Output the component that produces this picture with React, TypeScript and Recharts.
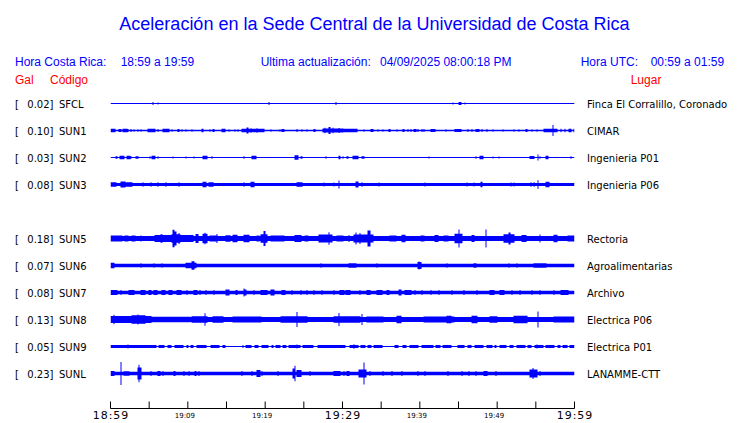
import React from 'react';
import { ComposedChart, Area, XAxis, YAxis } from 'recharts';

type Ev = [number, number, number]; // [start minute, end minute, half amplitude]

const codes = ['SFCL', 'SUN1', 'SUN2', 'SUN3', 'SUN5', 'SUN6', 'SUN7', 'SUN8', 'SUN9', 'SUNL'];
const galValues = ['0.02', '0.10', '0.03', '0.08', '0.18', '0.07', '0.08', '0.13', '0.05', '0.23'];
const places = [
  'Finca El Corralillo, Coronado', 'CIMAR', 'Ingenieria P01', 'Ingenieria P06',
  'Rectoria', 'Agroalimentarias', 'Archivo', 'Electrica P06', 'Electrica P01', 'LANAMME-CTT',
];
const noiseFloor = [0.5, 0.8, 0.5, 1.5, 2.6, 1.7, 1.7, 2.5, 1.5, 1.8];

const sfclEvents: Ev[] = [[5.5,5.5,1.5],[6.1,6.1,1.0],[20.5,20.5,1.5],[29.2,29.2,1.5],[44.3,44.3,1.0],[45.1,45.3,1.5],[45.8,45.8,1.0]];
const sun1Events: Ev[] = [[0.1,0.6,1.7],[1.1,1.3,1.5],[1.6,2.1,1.7],[2.3,2.3,1.5],[2.6,2.6,1.5],[3.1,3.1,1.2],[3.6,3.6,1.2],[4.0,4.0,1.2],[4.9,5.7,1.7],[6.1,6.1,1.5],[6.8,7.5,1.7],[8.0,8.0,1.2],[8.7,8.9,1.5],[9.3,9.3,1.2],[9.8,9.8,1.2],[10.6,10.6,1.2],[11.8,12.0,1.7],[12.9,12.9,1.2],[13.2,13.4,1.5],[14.4,14.8,1.7],[15.3,15.3,1.2],[16.1,16.1,1.2],[16.5,16.5,1.2],[17.0,19.8,1.8],[17.7,17.8,3.0],[18.2,18.2,2.3],[19.0,19.0,2.2],[20.7,20.7,1.2],[21.9,21.9,1.2],[22.2,22.4,1.5],[24.1,24.1,1.5],[24.8,24.8,1.2],[25.4,25.4,1.2],[26.3,26.5,1.5],[27.5,30.0,2.0],[27.8,27.8,2.8],[28.3,28.4,3.5],[28.8,28.8,2.8],[29.5,29.5,2.5],[30.0,31.9,1.7],[32.8,32.8,1.2],[33.7,34.0,1.5],[34.6,34.6,1.2],[35.3,35.3,1.2],[36.0,36.2,1.5],[37.0,37.0,1.2],[37.8,38.0,1.5],[38.5,38.5,1.5],[38.9,38.9,1.5],[39.2,39.5,1.5],[39.8,39.8,1.5],[40.3,40.3,1.5],[40.6,40.6,1.5],[41.4,42.0,1.5],[43.4,43.4,1.2],[44.6,45.3,1.5],[46.2,46.2,1.5],[46.8,46.8,1.5],[47.3,47.6,1.5],[48.0,48.0,1.5],[48.7,48.7,1.5],[49.5,49.5,1.2],[50.7,50.7,1.2],[52.2,52.2,1.2],[52.8,52.8,1.2],[53.7,53.9,1.5],[54.5,54.5,1.2],[55.2,55.2,1.2],[56.1,57.7,1.8],[57.2,57.2,5.5],[58.2,58.2,1.7],[58.8,58.8,1.7],[59.3,59.6,1.7],[59.9,59.9,1.7]];
const sun2Events: Ev[] = [[0.7,0.9,1.2],[1.2,1.8,1.7],[2.1,2.5,1.7],[2.7,2.7,1.2],[3.3,3.5,1.2],[5.1,5.1,1.2],[5.4,5.7,1.7],[6.2,6.2,1.2],[8.1,8.1,1.0],[9.8,9.8,1.0],[10.8,10.8,1.0],[11.9,12.5,1.7],[13.1,13.1,1.2],[17.2,17.2,1.2],[18.3,18.8,1.7],[23.8,24.2,2.3],[24.6,24.8,1.2],[27.9,27.9,1.2],[29.5,29.7,1.7],[30.0,30.0,1.2],[30.6,30.7,1.2],[31.3,32.0,1.7],[32.5,32.8,1.2],[41.2,41.2,1.0],[47.3,47.3,1.2],[47.8,48.2,1.7],[49.4,49.4,1.0],[50.2,50.2,1.0],[54.3,54.7,1.5],[55.3,55.3,3.0],[55.6,55.6,1.2],[56.3,56.6,1.7],[59.5,59.5,1.2]];
const sun3Events: Ev[] = [[0,0.7,2.3],[1.4,1.9,3.0],[1.9,2.8,2.2],[4.2,4.2,2.2],[5.3,5.3,2.2],[6.2,6.2,2.2],[7.2,7.2,2.2],[8.8,8.8,2.2],[11.9,12.4,2.7],[12.7,13.2,2.3],[17.2,17.2,2.2],[18.2,18.5,2.7],[24.1,24.8,2.3],[27.6,27.6,2.0],[28.9,28.9,2.0],[29.6,29.6,4.0],[31.7,32.0,3.0],[32.5,32.5,2.2],[34.7,34.7,2.0],[40.7,40.7,2.0],[46.1,46.1,2.0],[47.0,47.0,2.0],[47.9,48.1,2.7],[51.8,51.8,2.0],[52.2,52.2,2.0],[54.4,54.4,2.2],[54.7,54.7,2.2],[55.3,55.3,4.3],[56.3,56.7,2.7]];
const sun5Events: Ev[] = [[0,1.5,2.9],[1.9,2.2,3.0],[2.8,3.2,3.0],[4.0,4.0,3.0],[5.8,7.8,3.4],[6.5,6.6,4.2],[7.9,9.0,4.2],[8.1,8.2,8.7],[8.4,8.5,7.0],[8.8,8.8,5.5],[9.1,10.7,3.4],[11.0,11.3,4.4],[11.9,12.5,4.8],[12.2,12.2,5.7],[12.9,13.6,3.1],[13.8,13.8,4.5],[14.9,15.5,3.2],[15.9,16.4,3.8],[17.2,17.9,3.7],[19.0,19.2,3.1],[19.5,20.3,4.2],[19.9,20.0,7.5],[20.7,22.4,3.1],[23.9,24.6,3.4],[25.2,25.5,3.1],[26.9,28.7,3.9],[28.2,28.3,6.3],[29.3,29.7,3.1],[29.7,30.1,2.9],[30.8,30.8,3.5],[31.5,34.0,4.1],[31.7,31.7,6.0],[32.3,32.3,5.5],[33.3,33.5,8.0],[36.2,36.9,3.1],[37.7,38.1,3.8],[40.1,40.5,3.1],[42.0,42.4,3.4],[43.1,43.6,3.1],[44.6,45.5,4.8],[45.0,45.1,9.0],[46.8,47.0,3.4],[48.6,48.6,9.0],[50.9,52.2,4.2],[51.5,51.6,6.0],[53.2,53.7,3.4],[55.6,55.6,4.0],[57.3,57.8,3.8],[59.1,60,3.1]];
const sun6Events: Ev[] = [[0,0.5,2.7],[3.9,3.9,2.3],[5.6,5.6,2.3],[6.7,6.7,2.3],[9.7,11.0,2.8],[10.6,10.8,4.3],[27.2,27.2,2.3],[30.9,31.7,2.3],[34.4,34.4,2.3],[39.7,40.1,3.5],[39.9,39.9,4.0],[43.5,43.5,2.3],[47.0,47.3,2.3],[51.5,51.5,2.3],[52.6,52.6,2.3],[54.7,56.3,2.3]];
const sun7Events: Ev[] = [[0,0.9,2.5],[1.3,1.3,2.5],[2.4,3.0,2.5],[3.9,4.5,2.5],[5.0,5.2,2.5],[5.6,6.0,2.5],[6.7,7.1,2.5],[7.5,8.0,2.5],[8.6,9.1,2.5],[9.9,9.9,2.5],[10.8,11.2,2.5],[11.6,11.6,2.5],[12.3,12.3,2.5],[13.4,13.4,2.5],[14.9,15.3,3.0],[16.2,16.4,2.5],[17.2,17.5,3.0],[17.3,17.3,4.0],[18.5,18.5,2.5],[19.4,20.3,2.5],[20.7,21.1,3.0],[22.2,22.6,2.5],[23.5,23.5,2.5],[24.6,24.6,2.5],[25.4,25.4,2.5],[26.3,26.3,2.5],[27.4,27.4,2.5],[28.9,28.9,2.5],[29.7,30.2,2.5],[30.4,31.0,2.5],[32.3,32.3,2.5],[33.2,33.6,2.5],[34.5,35.1,2.5],[35.8,36.0,2.5],[37.3,37.5,3.0],[38.1,38.8,2.5],[39.4,39.4,2.5],[40.3,40.3,2.5],[41.4,41.4,2.5],[42.5,42.5,2.5],[44.2,44.2,2.5],[45.7,45.7,2.5],[47.4,47.4,2.5],[49.1,49.6,2.5],[50.4,50.9,2.5],[51.9,51.9,2.5],[53.0,53.0,2.5],[54.5,54.5,2.5],[55.6,55.6,2.5],[57.3,57.3,2.5],[58.2,59.1,2.5]];
const sun8Events: Ev[] = [[0,5.2,3.5],[0.4,0.4,4.8],[2.8,4.5,4.2],[3.6,3.6,5.0],[5.2,10.3,2.8],[10.6,12.5,3.2],[12.2,12.2,6.3],[13.3,14.6,3.2],[15.9,19.4,2.9],[22.0,25.4,3.2],[24.1,24.1,7.5],[28.9,32.3,3.2],[29.6,29.6,6.5],[32.5,32.5,5.5],[33.2,35.3,2.9],[37.1,37.5,3.7],[40.5,44.4,2.9],[43.5,44.0,3.7],[46.8,47.4,3.7],[49.1,50.0,3.2],[52.2,53.9,3.7],[55.3,55.3,8.0],[57.3,60,2.9]];
const sun9Events: Ev[] = [[2.2,2.2,2.0],[6.0,6.2,0.5],[7.1,7.3,0.5],[8.0,8.2,0.5],[9.5,9.7,0.5],[10.1,10.3,0.5],[10.8,11.0,0.5],[12.5,12.9,0.5],[14.2,14.4,0.5],[14.9,17.0,0.5],[17.2,17.4,0.5],[18.3,18.5,0.5],[19.2,19.4,0.5],[20.5,20.7,0.5],[21.1,21.3,0.5],[22.0,22.2,0.5],[22.8,23.0,0.5],[24.1,24.1,2.0],[24.6,24.8,0.5],[26.3,26.7,0.5],[30.4,30.8,0.5],[31.5,31.5,2.3],[32.1,32.3,0.5],[33.0,33.2,0.5],[33.8,34.0,0.5],[35.3,36.6,0.5],[37.3,37.7,0.5],[38.4,38.6,0.5],[39.9,40.1,0.5],[41.8,42.0,0.5],[42.7,42.9,0.5],[44.2,44.4,0.5],[44.6,44.8,0.5],[45.9,46.1,0.5],[46.8,47.0,0.5],[48.3,48.5,0.5],[49.4,49.6,0.5],[50.0,50.2,0.5],[51.3,51.5,0.5],[52.2,52.4,0.5],[53.7,53.9,0.5],[54.5,54.7,0.5],[55.2,55.2,2.0],[56.0,56.2,0.5],[57.5,57.7,0.5],[58.2,58.4,0.5],[59.1,59.3,0.5]];
const sunlEvents: Ev[] = [[0,0.5,2.5],[1.4,1.4,11.5],[1.7,2.4,2.3],[3.5,3.9,6.0],[3.7,3.7,8.8],[5.2,5.2,2.5],[6.1,6.4,2.5],[6.8,6.8,2.5],[8.2,8.4,2.5],[9.5,9.5,2.5],[10.1,10.1,2.5],[10.9,11.1,2.5],[11.5,11.5,2.5],[17.0,17.0,2.5],[18.3,18.3,2.5],[19.0,19.3,3.5],[19.6,19.6,2.5],[21.6,21.6,2.5],[23.6,23.9,5.0],[23.8,23.8,7.7],[24.1,24.6,3.5],[25.8,25.8,2.5],[28.9,29.7,2.5],[30.2,30.2,2.5],[30.6,30.8,2.5],[32.1,33.0,4.0],[32.8,32.8,11.0],[33.6,33.6,2.5],[35.3,35.3,2.5],[36.4,36.4,2.5],[37.7,37.7,2.5],[39.7,39.7,2.5],[40.7,40.7,2.5],[43.7,43.7,2.5],[45.5,45.5,2.5],[46.3,46.3,2.5],[47.2,47.2,2.5],[48.3,48.7,2.5],[49.8,49.8,2.5],[54.3,55.2,4.0],[54.6,54.6,5.5],[55.6,55.6,2.5]];

const stationEvents: Ev[][] = [sfclEvents, sun1Events, sun2Events, sun3Events, sun5Events, sun6Events, sun7Events, sun8Events, sun9Events, sunlEvents];

const xTicks = [0, 5, 10, 15, 20, 25, 30, 35, 40, 45, 50, 55, 60];
const xTickLabels = ['18:59', '', '19:09', '', '19:19', '', '19:29', '', '19:39', '', '19:49', '', '19:59'];
const majorTickLabels = ['18:59', '19:29', '19:59'];

const title = 'Aceleración en la Sede Central de la Universidad de Costa Rica';
const localRange = '18:59 a 19:59';
const utcRange = '00:59 a 01:59';
const updated = '04/09/2025 08:00:18 PM';

// ---- layout / styling ----
const W = 740;
const H = 423;
const SPAN = 60;
const BINS = 464;
const ROW_PX = 27;
const PLOT_TOP = 90;
const PLOT_BOTTOM = 408.5;
const LEFT_W = 110.5;
const RIGHT_W = 165.5;
const BLUE = '#0000ff';
const RED = '#ff0000';
const SANS = '"Liberation Sans", Arial, Helvetica, sans-serif';
const DEJAVU = '"DejaVu Sans", sans-serif';

const rowOf = (code: string) => (code === 'SFCL' ? 0 : code === 'SUNL' ? 10 : parseInt(code.slice(3), 10));
const rows = codes.map(rowOf);
const yDomain: [number, number] = [-0.5, -0.5 + (PLOT_BOTTOM - PLOT_TOP) / ROW_PX];
const GAIN = 1 / ROW_PX;

const table = Array.from({ length: BINS + 1 }, (_, i) => {
  const rec: Record<string, number> = { t: (i * SPAN) / BINS };
  codes.forEach((c, k) => {
    let a = -1;
    for (const [t0, t1, amp] of stationEvents[k]) {
      const b0 = Math.floor((t0 * BINS) / SPAN + 1e-6);
      const b1 = Math.floor((t1 * BINS) / SPAN + 1e-6);
      if (i >= b0 && i <= b1) a = Math.max(a, amp);
    }
    rec[c] = a < 0 ? noiseFloor[k] : a;
  });
  return rec;
});

const XTick = (props: any) => {
  const { x, y, payload } = props;
  const idx = xTicks.indexOf(payload.value);
  const label = xTickLabels[idx] || '';
  const major = majorTickLabels.includes(label);
  return (
    <g>
      <line x1={x} x2={x} y1={y - 7} y2={y} stroke="#000" strokeWidth={1} />
      {label && (
        major ? (
          <text x={x + 0.5} y={y + 10.5} textAnchor="middle" fontFamily={DEJAVU} fontSize={11} letterSpacing={1} fill="#000">{label}</text>
        ) : (
          <text x={x - 3} y={y + 9} textAnchor="middle" fontFamily={DEJAVU} fontSize={7} fill="#000">{label}</text>
        )
      )}
    </g>
  );
};

const LeftTick = (props: any) => {
  const { y, payload } = props;
  const k = rows.indexOf(payload.value);
  if (k < 0) return null;
  return (
    <g fontFamily={DEJAVU} fontSize={10} fill="#000">
      <text x={15} y={y + 4}>[</text>
      <text x={27.3} y={y + 4}>{galValues[k]}]</text>
      <text x={59} y={y + 4}>{codes[k]}</text>
    </g>
  );
};

const RightTick = (props: any) => {
  const { y, payload } = props;
  const k = rows.indexOf(payload.value);
  if (k < 0) return null;
  return (
    <text x={587} y={y + 4} fontFamily={DEJAVU} fontSize={10} fill="#000">{places[k]}</text>
  );
};

export default function App() {
  return (
    <div style={{ position: 'absolute', left: 0, top: 0, width: W, height: H, background: '#fff' }}>
      <ComposedChart width={W} height={H} data={table} margin={{ top: PLOT_TOP, right: 0, bottom: 0, left: 0 }}>
        <XAxis
          dataKey="t"
          type="number"
          domain={[0, SPAN]}
          ticks={xTicks}
          interval={0}
          allowDataOverflow
          height={H - PLOT_BOTTOM}
          tickSize={0}
          tickMargin={0}
          tickLine={false}
          axisLine={{ stroke: '#000', strokeWidth: 1 }}
          tick={<XTick />}
        />
        <YAxis
          yAxisId="l"
          orientation="left"
          type="number"
          domain={yDomain}
          reversed
          allowDataOverflow
          ticks={rows}
          interval={0}
          width={LEFT_W}
          axisLine={false}
          tickLine={false}
          tickSize={0}
          tickMargin={0}
          tick={<LeftTick />}
        />
        <YAxis
          yAxisId="r"
          orientation="right"
          type="number"
          domain={yDomain}
          reversed
          allowDataOverflow
          ticks={rows}
          interval={0}
          width={RIGHT_W}
          axisLine={false}
          tickLine={false}
          tickSize={0}
          tickMargin={0}
          tick={<RightTick />}
        />
        {codes.map((c, k) => (
          <Area
            key={c}
            yAxisId="l"
            type="stepAfter"
            dataKey={(d: any) => [rows[k] - d[c] * GAIN, rows[k] + d[c] * GAIN]}
            stroke="none"
            fill={BLUE}
            fillOpacity={1}
            dot={false}
            activeDot={false}
            isAnimationActive={false}
          />
        ))}
      </ComposedChart>
      <svg width={W} height={H} style={{ position: 'absolute', left: 0, top: 0, pointerEvents: 'none' }}>
        <text x={374.5} y={30} textAnchor="middle" fontFamily={SANS} fontSize={18} fill={BLUE}>{title}</text>
        <g fontFamily={SANS} fontSize={12} fill={BLUE}>
          <text x={15} y={66}>Hora Costa Rica:</text>
          <text x={120.7} y={66}>{localRange}</text>
          <text x={260.7} y={66}>Ultima actualización:</text>
          <text x={380} y={66}>{updated}</text>
          <text x={580.7} y={66}>Hora UTC:</text>
          <text x={650.7} y={66}>{utcRange}</text>
        </g>
        <g fontFamily={SANS} fontSize={12} fill={RED}>
          <text x={15} y={84}>Gal</text>
          <text x={50} y={84}>Código</text>
          <text x={630.7} y={84}>Lugar</text>
        </g>
      </svg>
    </div>
  );
}
